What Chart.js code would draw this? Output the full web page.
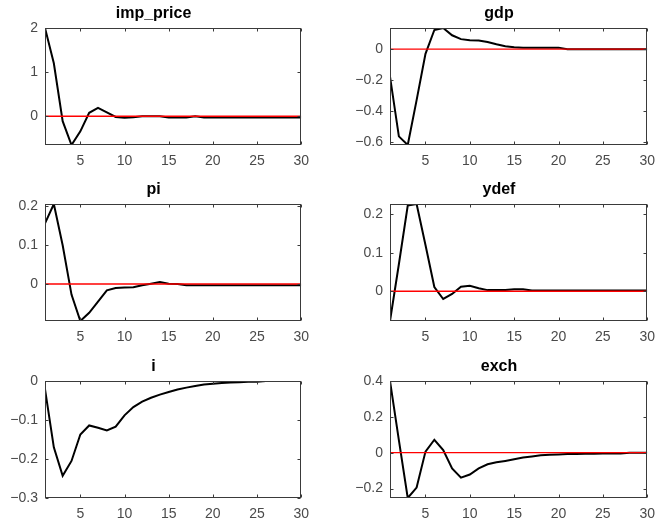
<!DOCTYPE html>
<html>
<head>
<meta charset="utf-8">
<script src="https://cdn.jsdelivr.net/npm/chart.js@4/dist/chart.umd.min.js"></script>
<style>
  html, body { margin: 0; padding: 0; background: #ffffff; }
  #fig { position: relative; width: 663px; height: 525px; overflow: hidden; }
  #fig canvas { position: absolute; }
</style>
</head>
<body>
<div id="fig"></div>
<script>
// Impulse responses over a 30-period horizon
const horizon = [1, 2, 3, 4, 5, 6, 7, 8, 9, 10, 11, 12, 13, 14, 15,
                 16, 17, 18, 19, 20, 21, 22, 23, 24, 25, 26, 27, 28, 29, 30];
const xTicks = [5, 10, 15, 20, 25, 30];

const impPrice = [2.0, 1.2, -0.11, -0.65, -0.34, 0.08, 0.19, 0.09, -0.015, -0.03,
                  -0.02, 0.0, 0.0, 0.0, -0.025, -0.025, -0.025, 0.0, -0.025, -0.025,
                  -0.025, -0.025, -0.025, -0.025, -0.025, -0.025, -0.025, -0.025, -0.025, -0.025];
const gdp = [-0.177, -0.564, -0.62, -0.33, -0.03, 0.124, 0.137, 0.09, 0.065, 0.058,
             0.056, 0.047, 0.032, 0.019, 0.012, 0.01, 0.01, 0.01, 0.01, 0.01,
             0, 0, 0, 0, 0, 0, 0, 0, 0, 0];
const pi = [0.156, 0.206, 0.10, -0.027, -0.095, -0.074, -0.045, -0.016, -0.01, -0.009,
            -0.008, -0.003, 0.001, 0.005, 0.001, 0, -0.003, -0.003, -0.003, -0.003,
            -0.003, -0.003, -0.003, -0.003, -0.003, -0.003, -0.003, -0.003, -0.003, -0.003];
const ydef = [-0.077, 0.07, 0.222, 0.226, 0.12, 0.011, -0.02, -0.007, 0.012, 0.014,
              0.008, 0.003, 0.003, 0.003, 0.005, 0.005, 0.002, 0.002, 0.002, 0.002,
              0.002, 0.002, 0.002, 0.002, 0.002, 0.002, 0.002, 0.002, 0.002, 0.002];
const iRate = [-0.021, -0.17, -0.243, -0.205, -0.137, -0.114, -0.12, -0.127, -0.117, -0.088,
               -0.067, -0.053, -0.043, -0.035, -0.028, -0.022, -0.017, -0.013, -0.009, -0.007,
               -0.005, -0.004, -0.003, -0.002, -0.002, 0, 0, 0, 0, 0];
const exch = [0.40, 0.07, -0.253, -0.195, 0.006, 0.072, 0.015, -0.088, -0.139, -0.122,
              -0.088, -0.065, -0.054, -0.046, -0.037, -0.027, -0.021, -0.015, -0.012, -0.01,
              -0.008, -0.007, -0.006, -0.006, -0.005, -0.005, -0.005, 0, 0, 0];

// y-axis ticks and limits per panel
const impPriceTicks = [0, 1, 2];
const gdpTicks = [-0.6, -0.4, -0.2, 0];
const piTicks = [0, 0.1, 0.2];
const ydefTicks = [0, 0.1, 0.2];
const iTicks = [-0.3, -0.2, -0.1, 0];
const exchTicks = [-0.2, 0, 0.2, 0.4];

const impPriceRange = [-0.65, 2.0];
const gdpRange = [-0.62, 0.137];
const piRange = [-0.095, 0.206];
const ydefRange = [-0.077, 0.226];
const iRange = [-0.3, 0];
const exchRange = [-0.253, 0.40];

const panels = [
  { title: 'imp_price', values: impPrice, ticks: impPriceTicks, range: impPriceRange },
  { title: 'gdp',       values: gdp,      ticks: gdpTicks,      range: gdpRange },
  { title: 'pi',        values: pi,       ticks: piTicks,       range: piRange },
  { title: 'ydef',      values: ydef,     ticks: ydefTicks,     range: ydefRange },
  { title: 'i',         values: iRate,    ticks: iTicks,        range: iRange },
  { title: 'exch',      values: exch,     ticks: exchTicks,     range: exchRange }
];

// subplot grid geometry (plot-area boxes)
const colLeft = [45, 390];
const colWidth = [262, 263];
const rowTop = [28, 204, 381];
const plotHeight = 117;
const axisW = 45, titleH = 28, xAxisH = 30, padRight = 10;

const FONT = "'Liberation Sans', Arial, Helvetica, sans-serif";

// Box outline with inward tick marks on all four sides
const boxPlugin = {
  id: 'boxAxes',
  afterDatasetsDraw(chart) {
    const { ctx, chartArea: a, scales } = chart;
    const L = Math.round(a.left) + 0.5, R = Math.round(a.right) - 0.5;
    const T = Math.round(a.top) + 0.5, B = Math.round(a.bottom) - 0.5;
    ctx.save();
    ctx.strokeStyle = '#3a3a3a';
    ctx.lineWidth = 1;
    ctx.strokeRect(L, T, R - L, B - T);
    const len = 3;
    ctx.beginPath();
    scales.x.ticks.forEach(t => {
      const px = Math.round(scales.x.getPixelForValue(t.value)) + 0.5;
      ctx.moveTo(px, B); ctx.lineTo(px, B - len);
      ctx.moveTo(px, T); ctx.lineTo(px, T + len);
    });
    scales.y.ticks.forEach(t => {
      const py = Math.round(scales.y.getPixelForValue(t.value)) + 0.5;
      ctx.moveTo(L, py); ctx.lineTo(L + len, py);
      ctx.moveTo(R, py); ctx.lineTo(R - len, py);
    });
    ctx.stroke();
    ctx.restore();
  }
};

const fmt = v => {
  const r = Math.round(v * 1000) / 1000;
  return (r < 0 ? '\u2212' : '') + String(Math.abs(r));
};

const fig = document.getElementById('fig');
panels.forEach((p, idx) => {
  const col = idx % 2, row = Math.floor(idx / 2);
  const w = axisW + colWidth[col] + padRight;
  const h = titleH + plotHeight + xAxisH;
  const cv = document.createElement('canvas');
  cv.width = w; cv.height = h;
  cv.style.left = (colLeft[col] - axisW) + 'px';
  cv.style.top = (rowTop[row] - titleH) + 'px';
  cv.style.width = w + 'px'; cv.style.height = h + 'px';
  fig.appendChild(cv);

  new Chart(cv, {
    type: 'line',
    data: {
      datasets: [
        {
          // zero reference line, drawn on top
          data: [{ x: horizon[0], y: 0 }, { x: horizon[horizon.length - 1], y: 0 }],
          borderColor: '#ff0000',
          borderWidth: 1.4,
          pointRadius: 0
        },
        {
          data: horizon.map((t, k) => ({ x: t, y: p.values[k] })),
          borderColor: '#000000',
          borderWidth: 2,
          pointRadius: 0,
          tension: 0
        }
      ]
    },
    options: {
      responsive: false,
      animation: false,
      events: [],
      devicePixelRatio: 1,
      layout: { padding: { left: 0, right: padRight, top: 0, bottom: 0 } },
      plugins: {
        legend: { display: false },
        tooltip: { enabled: false },
        title: {
          display: true,
          text: p.title,
          color: '#000000',
          font: { family: FONT, size: 16, weight: 'bold', lineHeight: 1 },
          padding: { top: 6, bottom: 6 }
        }
      },
      scales: {
        x: {
          type: 'linear',
          min: horizon[0],
          max: horizon[horizon.length - 1],
          grid: { display: false, drawTicks: false },
          border: { display: false },
          afterBuildTicks: s => { s.ticks = xTicks.map(v => ({ value: v })); },
          afterFit: s => { s.height = xAxisH; },
          ticks: {
            color: '#4a4a4a',
            font: { family: FONT, size: 14 },
            padding: 8,
            maxRotation: 0,
            autoSkip: false,
            callback: v => fmt(v)
          }
        },
        y: {
          type: 'linear',
          min: p.range[0],
          max: p.range[1],
          grid: { display: false, drawTicks: false },
          border: { display: false },
          afterBuildTicks: s => { s.ticks = p.ticks.map(v => ({ value: v })); },
          afterFit: s => { s.width = axisW; },
          ticks: {
            color: '#4a4a4a',
            font: { family: FONT, size: 14 },
            padding: 7,
            autoSkip: false,
            callback: v => fmt(v)
          }
        }
      }
    },
    plugins: [boxPlugin]
  });
});
</script>
</body>
</html>
